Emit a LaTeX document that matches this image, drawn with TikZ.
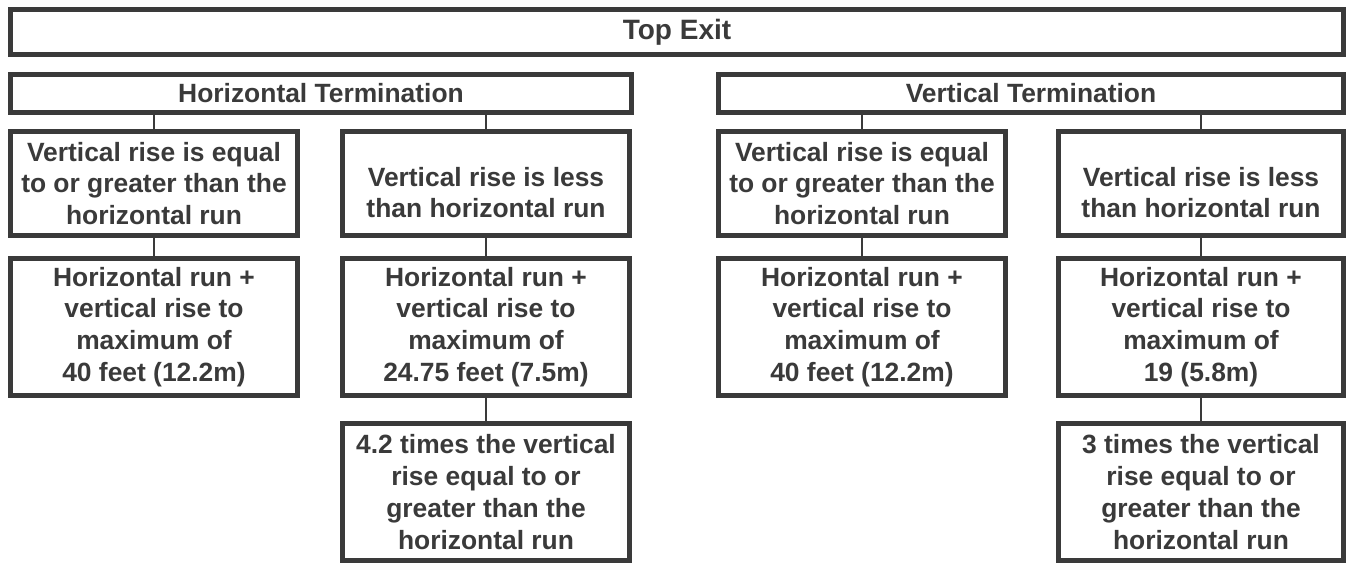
\documentclass[tikz,border=0pt]{standalone}
\usepackage{fontspec}
\setmainfont{Liberation Sans}
\definecolor{ink}{HTML}{3A3A3A}
\tikzset{
  box/.style={draw=ink, line width=3.75pt, fill=white, inner sep=0pt, align=center,
    text=ink, font=\fontsize{19.8}{23.8}\selectfont\bfseries},
  bsz/.style 2 args={minimum width=#1*0.75pt, minimum height=#2*0.75pt},
  conn/.style={draw=ink, line width=1.6pt}
}
\begin{document}
\begin{tikzpicture}[x=0.75pt, y=-0.75pt]
\useasboundingbox (0,0) rectangle (1348,564);
\fill[white] (0,0) rectangle (1348,564);

\node[box, bsz={1333}{45}, font=\fontsize{21}{24}\selectfont\bfseries] (top) at (677,32) {Top Exit};
\node[box, bsz={621}{38}] (ht) at (321,93.5) {Horizontal Termination};
\node[box, bsz={625}{38}] (vt) at (1031,93.5) {Vertical Termination};

\node[box, bsz={287}{104}] (a1) at (154,183.5) {Vertical rise is equal\\to or greater than the\\horizontal run};
\node[box, bsz={287}{104}] (b1) at (486,183.5) {\rule{0pt}{28pt}Vertical rise is less\\than horizontal run};
\node[box, bsz={287}{104}] (c1) at (862,183.5) {Vertical rise is equal\\to or greater than the\\horizontal run};
\node[box, bsz={285}{104}] (d1) at (1201,183.5) {\rule{0pt}{28pt}Vertical rise is less\\than horizontal run};

\node[box, bsz={287}{137}] (a2) at (154,327) {Horizontal run +\\vertical rise to\\maximum of\\40 feet (12.2m)};
\node[box, bsz={287}{137}] (b2) at (486,327) {Horizontal run +\\vertical rise to\\maximum of\\24.75 feet (7.5m)};
\node[box, bsz={287}{137}] (c2) at (862,327) {Horizontal run +\\vertical rise to\\maximum of\\40 feet (12.2m)};
\node[box, bsz={285}{137}] (d2) at (1201,327) {Horizontal run +\\vertical rise to\\maximum of\\19 (5.8m)};

\node[box, bsz={287}{137}] (b3) at (486,492) {4.2 times the vertical\\rise equal to or\\greater than the\\horizontal run};
\node[box, bsz={285}{137}] (d3) at (1201,492) {3 times the vertical\\rise equal to or\\greater than the\\horizontal run};

\draw[conn] (ht.south -| a1.north) -- (a1.north);
\draw[conn] (ht.south -| b1.north) -- (b1.north);
\draw[conn] (vt.south -| c1.north) -- (c1.north);
\draw[conn] (vt.south -| d1.north) -- (d1.north);
\draw[conn] (a1) -- (a2);
\draw[conn] (b1) -- (b2);
\draw[conn] (c1) -- (c2);
\draw[conn] (d1) -- (d2);
\draw[conn] (b2) -- (b3);
\draw[conn] (d2) -- (d3);
\end{tikzpicture}
\end{document}
